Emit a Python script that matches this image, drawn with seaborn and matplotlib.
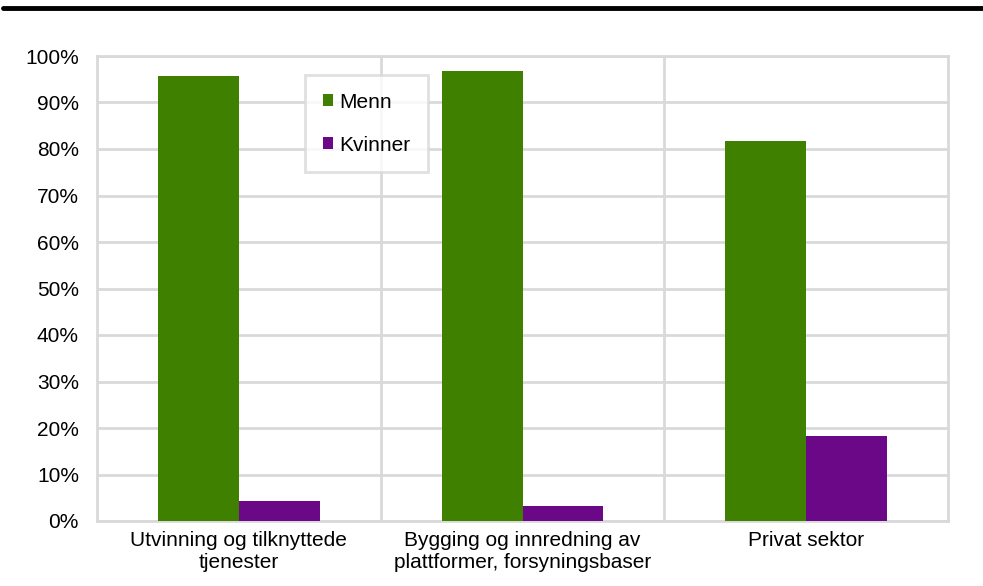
import matplotlib
matplotlib.use('Agg')
import matplotlib.pyplot as plt
from matplotlib.lines import Line2D
from matplotlib.ticker import MultipleLocator, FixedLocator, PercentFormatter
import seaborn as sns
import pandas as pd

# Data
categories = ['Utvinning og tilknyttede\ntjenester',
              'Bygging og innredning av\nplattformer, forsyningsbaser',
              'Privat sektor']
menn = [95.8, 96.8, 81.7]
kvinner = [4.2, 3.2, 18.3]
series = ['Menn', 'Kvinner']
colors = ['#3f8000', '#6a0888']

df = pd.DataFrame({
    'Kategori': categories * 2,
    'Kjonn': ['Menn'] * 3 + ['Kvinner'] * 3,
    'Andel': menn + kvinner,
})

sns.set_style('white')
plt.rcParams['font.family'] = ['Liberation Sans', 'DejaVu Sans']
plt.rcParams['text.color'] = 'black'

fig = plt.figure(figsize=(9.83, 5.86), dpi=100)
ax = fig.add_axes([97 / 983, 1 - 521 / 586, (948 - 97) / 983, (521 - 56) / 586])

sns.barplot(data=df, x='Kategori', y='Andel', hue='Kjonn', hue_order=series,
            palette=colors, width=0.57, saturation=1, linewidth=0, ax=ax, zorder=3)

grid_col = '#d9d9d9'
ax.set_ylim(0, 100)
ax.set_xlim(-0.5, 2.5)
ax.yaxis.set_major_locator(MultipleLocator(10))
ax.yaxis.set_major_formatter(PercentFormatter(decimals=0))
ax.xaxis.set_minor_locator(FixedLocator([0.5, 1.5]))
ax.grid(axis='y', which='major', color=grid_col, linewidth=2, zorder=0)
ax.grid(axis='x', which='minor', color=grid_col, linewidth=2, zorder=0)
ax.set_axisbelow(True)
for side in ['left', 'right', 'bottom', 'top']:
    ax.spines[side].set_color(grid_col)
    ax.spines[side].set_linewidth(2)
ax.tick_params(axis='both', which='both', length=0, labelsize=15, colors='black')
ax.tick_params(axis='y', pad=13)
ax.tick_params(axis='x', pad=7)
ax.set_xlabel('')
ax.set_ylabel('')

leg = ax.legend(loc='upper left', bbox_to_anchor=((305 - 97) / 851, (521 - 75) / 465),
                fontsize=15, frameon=True, fancybox=False, handlelength=0.5,
                handleheight=0.5, handletextpad=0.3, labelspacing=1.15,
                borderpad=0.85, borderaxespad=0, labelcolor='black')
leg.get_frame().set_edgecolor(grid_col)
leg.get_frame().set_linewidth(2)

# thick rule at the top of the figure
fig.add_artist(Line2D([3 / 983, 1], [1 - 8 / 586, 1 - 8 / 586], color='black',
                      linewidth=3.5, transform=fig.transFigure))

fig.savefig('out.png', dpi=100)
